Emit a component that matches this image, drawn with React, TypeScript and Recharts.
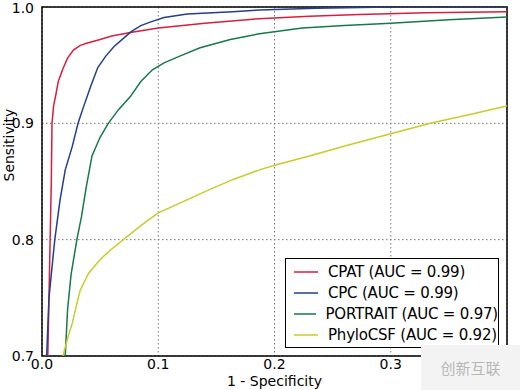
import React from 'react';
import {
  LineChart,
  Line,
  XAxis,
  YAxis,
  CartesianGrid,
  ReferenceArea,
  Legend,
} from 'recharts';

const xTicks = [0, 0.1, 0.2, 0.3];
const yTicks = [0.7, 0.8, 0.9, 1.0];

const cpat = [
  { fpr: 0.005, tpr: 0.7 }, { fpr: 0.006, tpr: 0.75 }, { fpr: 0.007, tpr: 0.8 },
  { fpr: 0.008, tpr: 0.85 }, { fpr: 0.0086, tpr: 0.9 }, { fpr: 0.01, tpr: 0.915 },
  { fpr: 0.012, tpr: 0.925 }, { fpr: 0.014, tpr: 0.936 }, { fpr: 0.018, tpr: 0.947 },
  { fpr: 0.022, tpr: 0.956 }, { fpr: 0.027, tpr: 0.963 }, { fpr: 0.033, tpr: 0.967 },
  { fpr: 0.039, tpr: 0.969 }, { fpr: 0.05, tpr: 0.972 }, { fpr: 0.06, tpr: 0.975 },
  { fpr: 0.076, tpr: 0.978 }, { fpr: 0.1, tpr: 0.982 }, { fpr: 0.14, tpr: 0.986 },
  { fpr: 0.187, tpr: 0.99 }, { fpr: 0.23, tpr: 0.992 }, { fpr: 0.273, tpr: 0.9935 },
  { fpr: 0.33, tpr: 0.995 }, { fpr: 0.4, tpr: 0.996 },
];

const cpc = [
  { fpr: 0.004, tpr: 0.7 }, { fpr: 0.006, tpr: 0.75 }, { fpr: 0.009, tpr: 0.78 },
  { fpr: 0.011, tpr: 0.8 }, { fpr: 0.0155, tpr: 0.834 }, { fpr: 0.02, tpr: 0.86 },
  { fpr: 0.026, tpr: 0.88 }, { fpr: 0.031, tpr: 0.9 }, { fpr: 0.036, tpr: 0.915 },
  { fpr: 0.042, tpr: 0.932 }, { fpr: 0.048, tpr: 0.948 }, { fpr: 0.055, tpr: 0.958 },
  { fpr: 0.062, tpr: 0.966 }, { fpr: 0.07, tpr: 0.973 }, { fpr: 0.077, tpr: 0.979 },
  { fpr: 0.085, tpr: 0.984 }, { fpr: 0.093, tpr: 0.987 }, { fpr: 0.105, tpr: 0.991 },
  { fpr: 0.125, tpr: 0.994 }, { fpr: 0.164, tpr: 0.996 }, { fpr: 0.187, tpr: 0.9975 },
  { fpr: 0.236, tpr: 0.999 }, { fpr: 0.3, tpr: 1.0 }, { fpr: 0.4, tpr: 1.0 },
];

const portrait = [
  { fpr: 0.02, tpr: 0.7 }, { fpr: 0.022, tpr: 0.74 }, { fpr: 0.025, tpr: 0.77 },
  { fpr: 0.03, tpr: 0.8 }, { fpr: 0.034, tpr: 0.82 }, { fpr: 0.038, tpr: 0.845 },
  { fpr: 0.043, tpr: 0.872 }, { fpr: 0.05, tpr: 0.888 }, { fpr: 0.057, tpr: 0.9 },
  { fpr: 0.066, tpr: 0.912 }, { fpr: 0.076, tpr: 0.923 }, { fpr: 0.085, tpr: 0.936 },
  { fpr: 0.095, tpr: 0.946 }, { fpr: 0.105, tpr: 0.952 }, { fpr: 0.119, tpr: 0.958 },
  { fpr: 0.136, tpr: 0.965 }, { fpr: 0.162, tpr: 0.972 }, { fpr: 0.187, tpr: 0.977 },
  { fpr: 0.224, tpr: 0.982 }, { fpr: 0.26, tpr: 0.984 }, { fpr: 0.3, tpr: 0.986 },
  { fpr: 0.35, tpr: 0.989 }, { fpr: 0.4, tpr: 0.9915 },
];

const phylocsf = [
  { fpr: 0.018, tpr: 0.7 }, { fpr: 0.022, tpr: 0.715 }, { fpr: 0.026, tpr: 0.728 },
  { fpr: 0.03, tpr: 0.745 }, { fpr: 0.033, tpr: 0.757 }, { fpr: 0.04, tpr: 0.771 },
  { fpr: 0.05, tpr: 0.783 }, { fpr: 0.06, tpr: 0.792 }, { fpr: 0.07, tpr: 0.8 },
  { fpr: 0.085, tpr: 0.812 }, { fpr: 0.1, tpr: 0.823 }, { fpr: 0.12, tpr: 0.832 },
  { fpr: 0.144, tpr: 0.843 }, { fpr: 0.165, tpr: 0.852 }, { fpr: 0.187, tpr: 0.86 },
  { fpr: 0.2, tpr: 0.864 }, { fpr: 0.23, tpr: 0.872 }, { fpr: 0.262, tpr: 0.881 },
  { fpr: 0.3, tpr: 0.891 }, { fpr: 0.334, tpr: 0.9 }, { fpr: 0.37, tpr: 0.908 },
  { fpr: 0.4, tpr: 0.915 },
];

const series = [
  { name: 'CPAT (AUC = 0.99)', data: cpat, color: '#d81e3c' },
  { name: 'CPC (AUC = 0.99)', data: cpc, color: '#233f8c' },
  { name: 'PORTRAIT (AUC = 0.97)', data: portrait, color: '#17784a' },
  { name: 'PhyloCSF (AUC = 0.92)', data: phylocsf, color: '#c8cc28' },
];

const font = '"DejaVu Sans", sans-serif';

const LegendBox = () => (
  <div
    style={{
      position: 'absolute',
      left: 285,
      top: 258,
      width: 214,
      height: 90,
      border: '1px solid #000',
      background: '#fff',
      fontFamily: font,
      fontSize: 15,
      color: '#000',
      boxSizing: 'border-box',
      paddingTop: 2,
    }}
  >
    {series.map((s) => (
      <div key={s.name} style={{ display: 'flex', alignItems: 'center', height: 21.25 }}>
        <svg width={24} height={4} style={{ marginLeft: 8 }}>
          <line x1={0} y1={2} x2={24} y2={2} stroke={s.color} strokeWidth={1.5} />
        </svg>
        <span style={{ marginLeft: 10, whiteSpace: 'nowrap', letterSpacing: -0.2 }}>{s.name}</span>
      </div>
    ))}
  </div>
);

export default function App() {
  return (
    <div style={{ position: 'absolute', left: 0, top: 0, width: 520, height: 390, background: '#fff' }}>
      <LineChart width={520} height={390} margin={{ top: 7, right: 13, left: 0, bottom: 0 }}>
        <CartesianGrid stroke="#777" strokeDasharray="1.5 2.5" />
        <XAxis
          dataKey="fpr"
          type="number"
          domain={[0, 0.4]}
          ticks={xTicks}
          allowDataOverflow
          height={34}
          tickLine={false}
          axisLine={false}
          tickSize={3}
          tickMargin={0}
          tickFormatter={(v: number) => v.toFixed(1)}
          tick={{ fill: '#000', fontSize: 14, fontFamily: font }}
          label={{ value: '1 - Specificity', position: 'insideBottom', offset: 4, fill: '#000', fontSize: 14, fontFamily: font }}
        />
        <YAxis
          type="number"
          domain={[0.7, 1.0]}
          ticks={yTicks}
          allowDataOverflow
          width={42}
          tickLine={false}
          axisLine={false}
          tickMargin={2}
          tickFormatter={(v: number) => v.toFixed(1)}
          tick={{ fill: '#000', fontSize: 14, fontFamily: font }}
          label={{ value: 'Sensitivity', angle: -90, position: 'insideLeft', offset: 9, fill: '#000', fontSize: 14, fontFamily: font }}
        />
        {series.map((s) => (
          <Line
            key={s.name}
            data={s.data}
            dataKey="tpr"
            name={s.name}
            stroke={s.color}
            strokeWidth={1.5}
            dot={false}
            activeDot={false}
            type="linear"
            isAnimationActive={false}
          />
        ))}
        <ReferenceArea x1={0} x2={0.4} y1={0.7} y2={1.0} fill="none" stroke="#000" strokeWidth={1.5} ifOverflow="visible" />
        <Legend content={() => null} />
      </LineChart>
      <LegendBox />
      <div
        style={{
          position: 'absolute',
          left: 421,
          top: 345,
          width: 99,
          height: 45,
          background: '#f3f3f3',
          display: 'flex',
          alignItems: 'center',
          justifyContent: 'center',
          color: '#b8b8b8',
          fontFamily: '"Noto Sans CJK SC", sans-serif',
          fontSize: 15,
        }}
      >
        创新互联
      </div>
    </div>
  );
}
